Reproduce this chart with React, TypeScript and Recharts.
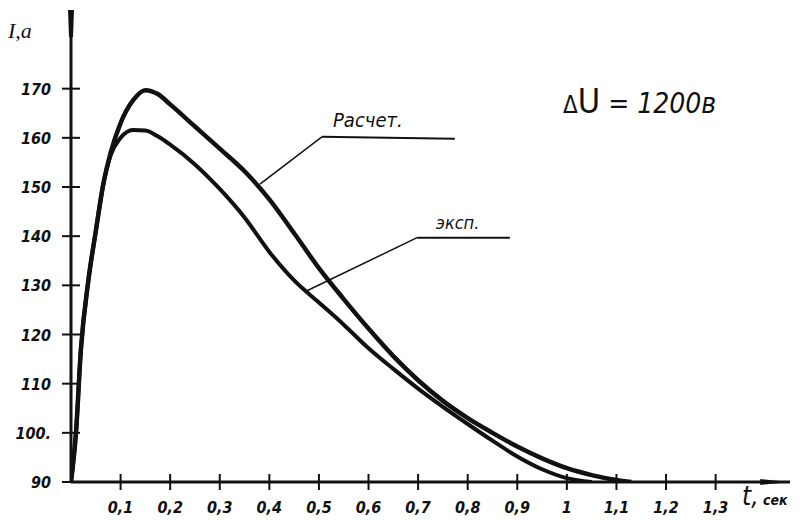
import React from "react";
import {
  LineChart,
  Line,
  XAxis,
  YAxis,
  ReferenceLine,
} from "recharts";

// time, sec
const T = [
  0, 0.01, 0.02, 0.035, 0.05, 0.065, 0.08, 0.1, 0.125, 0.15, 0.175, 0.2, 0.25,
  0.3, 0.35, 0.4, 0.45, 0.5, 0.55, 0.6, 0.65, 0.7, 0.75, 0.8, 0.85, 0.9, 0.95,
  1.0, 1.05, 1.1, 1.13,
];

// calculated current, a
const RASCHET = [
  90, 100, 117, 131, 141, 150.5, 157, 163, 167.6, 169.7, 168.9, 166.8, 162.3,
  157.8, 153.2, 147.5, 140.6, 133.5, 127.2, 121.2, 115.6, 110.7, 106.5, 103,
  100, 97.2, 94.8, 92.8, 91.4, 90.4, 90,
];

// experimental current, a
const EKSP = [
  90, 100, 117, 131, 141, 150.5, 156.5, 160, 161.6, 161.5, 160.3, 158.6, 154.6,
  149.6, 143.8, 136.8, 131, 126.5, 122, 117.2, 113, 109, 105.3, 101.8, 98.4,
  95.2, 92.6, 90.8, 90, null, null,
];

const X_TICKS = [0.1, 0.2, 0.3, 0.4, 0.5, 0.6, 0.7, 0.8, 0.9, 1, 1.1, 1.2, 1.3];
const Y_TICKS = [90, 100, 110, 120, 130, 140, 150, 160, 170];

const data = T.map((t, i) => ({ t, raschet: RASCHET[i], eksp: EKSP[i] }));

const INK = "#111";
const FONT = "'DejaVu Sans Condensed', 'DejaVu Sans', sans-serif";

const XTick = (props: any) => {
  const { x, y, payload } = props;
  return (
    <g>
      <line x1={x} y1={y - 8} x2={x} y2={y + 8} stroke={INK} strokeWidth={2} />
      <text
        x={x}
        y={y + 31}
        textAnchor="middle"
        fontFamily={FONT}
        fontStyle="italic"
        fontWeight="bold"
        fontSize={16}
        fill={INK}
      >
        {String(payload.value).replace(".", ",")}
      </text>
    </g>
  );
};

const YTick = (props: any) => {
  const { x, y, payload } = props;
  return (
    <g>
      <line x1={x - 9} y1={y} x2={x + 9} y2={y} stroke={INK} strokeWidth={2} />
      <text
        x={x - 20}
        y={y + 6}
        textAnchor="end"
        fontFamily={FONT}
        fontStyle="italic"
        fontWeight="bold"
        fontSize={16}
        fill={INK}
      >
        {payload.value === 100 ? "100." : payload.value}
      </text>
    </g>
  );
};

const ArrowX = (p: any) => (
  <polygon
    points={`${p.x1},${p.y1 - 3} ${p.x2},${p.y2} ${p.x1},${p.y1 + 3}`}
    fill={INK}
  />
);

const ArrowY = (p: any) => (
  <polygon
    points={`${p.x1 - 2},${p.y1} ${p.x2 - 3},${p.y2} ${p.x2 + 3},${p.y2} ${p.x1 + 2},${p.y1}`}
    fill={INK}
  />
);

export default function App() {
  return (
    <div
      style={{
        position: "absolute",
        left: 0,
        top: 0,
        width: 802,
        height: 520,
        background: "#fff",
      }}
    >
      <LineChart
        width={802}
        height={520}
        data={data}
        margin={{ top: 10, right: 12, bottom: 0, left: 0 }}
      >
        <XAxis
          dataKey="t"
          type="number"
          domain={[0, 1.45]}
          ticks={X_TICKS}
          allowDataOverflow
          height={38}
          tickSize={0}
          tickMargin={0}
          tickLine={false}
          axisLine={{ stroke: INK, strokeWidth: 3 }}
          tick={<XTick />}
        />
        <YAxis
          type="number"
          domain={[90, 186]}
          ticks={Y_TICKS}
          allowDataOverflow
          width={71}
          tickSize={0}
          tickMargin={0}
          tickLine={false}
          axisLine={{ stroke: INK, strokeWidth: 3 }}
          tick={<YTick />}
        />
        <ReferenceLine
          segment={[
            { x: 1.39, y: 90 },
            { x: 1.45, y: 90 },
          ]}
          ifOverflow="visible"
          shape={ArrowX}
        />
        <ReferenceLine
          segment={[
            { x: 0, y: 180.5 },
            { x: 0, y: 186 },
          ]}
          ifOverflow="visible"
          shape={ArrowY}
        />
        {/* leader: Расчет */}
        <ReferenceLine
          segment={[
            { x: 0.381, y: 150.6 },
            { x: 0.506, y: 160.2 },
          ]}
          stroke={INK}
          strokeWidth={1.5}
          ifOverflow="visible"
        />
        <ReferenceLine
          segment={[
            { x: 0.506, y: 160.2 },
            { x: 0.774, y: 159.8 },
          ]}
          stroke={INK}
          strokeWidth={2}
          ifOverflow="visible"
        />
        {/* leader: эксп. */}
        <ReferenceLine
          segment={[
            { x: 0.476, y: 128.9 },
            { x: 0.698, y: 139.7 },
          ]}
          stroke={INK}
          strokeWidth={1.5}
          ifOverflow="visible"
        />
        <ReferenceLine
          segment={[
            { x: 0.698, y: 139.7 },
            { x: 0.885, y: 139.7 },
          ]}
          stroke={INK}
          strokeWidth={2}
          ifOverflow="visible"
        />
        <Line
          type="monotone"
          dataKey="raschet"
          stroke={INK}
          strokeWidth={4.5}
          dot={false}
          isAnimationActive={false}
        />
        <Line
          type="monotone"
          dataKey="eksp"
          stroke={INK}
          strokeWidth={4}
          dot={false}
          isAnimationActive={false}
        />
      </LineChart>

      <div
        style={{
          position: "absolute",
          left: 8,
          top: 20,
          fontFamily: "'Liberation Serif', serif",
          fontStyle: "italic",
          fontSize: 22,
          lineHeight: 1,
          color: INK,
        }}
      >
        I,a
      </div>
      <div
        style={{
          position: "absolute",
          left: 742,
          top: 483,
          fontFamily: FONT,
          fontStyle: "italic",
          lineHeight: 1,
          color: INK,
          whiteSpace: "nowrap",
        }}
      >
        <span style={{ fontSize: 26 }}>t,</span>
        <span style={{ fontSize: 14, fontWeight: "bold" }}> сек</span>
      </div>
      <div
        style={{
          position: "absolute",
          left: 333,
          top: 110,
          fontFamily: FONT,
          fontStyle: "italic",
          fontSize: 20,
          lineHeight: 1,
          color: INK,
        }}
      >
        Расчет.
      </div>
      <div
        style={{
          position: "absolute",
          left: 436,
          top: 214,
          fontFamily: FONT,
          fontStyle: "italic",
          fontSize: 18,
          lineHeight: 1,
          color: INK,
        }}
      >
        эксп.
      </div>
      <div
        style={{
          position: "absolute",
          left: 563,
          top: 84,
          fontFamily: FONT,
          lineHeight: 1,
          color: INK,
          whiteSpace: "nowrap",
        }}
      >
        <span style={{ fontSize: 24 }}>Δ</span>
        <span style={{ fontSize: 34 }}>U</span>
        <span style={{ fontSize: 28, fontStyle: "italic" }}> = 1200в</span>
      </div>
    </div>
  );
}
